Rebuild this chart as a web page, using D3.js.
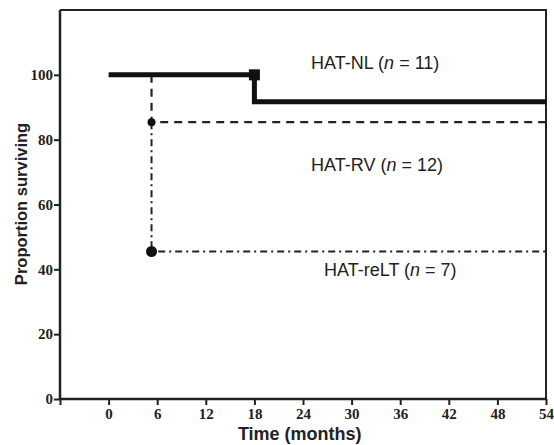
<!DOCTYPE html>
<html>
<head>
<meta charset="utf-8">
<script src="https://cdn.jsdelivr.net/npm/d3@7"></script>
<style>
  body { margin: 0; background: #fff; }
  .tick text { font-family: "Liberation Serif", "Times New Roman", serif; font-weight: bold; font-size: 15px; fill: #222; }
  .axisTitle { font-family: "Liberation Sans", Arial, sans-serif; font-weight: bold; fill: #222; }
  .groupLabel { font-family: "Liberation Sans", Arial, sans-serif; font-size: 18px; fill: #222; }
</style>
</head>
<body>
<script>
var svg_width = 554;
var svg_height = 445;

var margin = { top: 10, right: 8, bottom: 46, left: 60 };
var width = svg_width - margin.left - margin.right;
var height = svg_height - margin.top - margin.bottom;

// Data
var xTicks = [-6, 0, 6, 12, 18, 24, 30, 36, 42, 48, 54];
var yTicks = [0, 20, 40, 60, 80, 100];

var nlTime = [0, 18, 18, 54];
var nlSurv = [100, 100, 91.7, 91.7];

var rvTime = [5.3, 5.3, 54];
var rvSurv = [100, 85.4, 85.4];

var reltTime = [5.3, 5.3, 54];
var reltSurv = [85.4, 45.5, 45.5];

var labels = ["HAT-NL", "HAT-RV", "HAT-reLT"];
var labelN = [11, 12, 7];

var svg = d3.select("body")
  .append("svg")
  .attr("width", svg_width)
  .attr("height", svg_height);

var chartGroup = svg.append("g")
  .attr("transform", `translate(${margin.left}, ${margin.top})`);

var x = d3.scaleLinear().domain([-6, 54]).range([0, width]);
var y = d3.scaleLinear().domain([0, 120]).range([height, 0]);

// frame (top and right)
chartGroup.append("path")
  .attr("d", `M0,0H${width}V${height}`)
  .attr("fill", "none")
  .attr("stroke", "#222")
  .attr("stroke-width", 2);

var bottomAxis = d3.axisBottom(x).tickValues(xTicks).tickSize(6)
  .tickFormat(d => d < 0 ? "" : d);
var leftAxis = d3.axisLeft(y).tickValues(yTicks).tickSize(6);

var xg = chartGroup.append("g")
  .attr("transform", `translate(0, ${height})`)
  .call(bottomAxis);
var yg = chartGroup.append("g").call(leftAxis);

[xg, yg].forEach(function(g) {
  g.select(".domain").remove();
  g.selectAll(".tick line").attr("stroke", "#222").attr("stroke-width", 2);
});
xg.selectAll(".tick text").attr("y", 9);
yg.selectAll(".tick text").attr("x", -7);

chartGroup.append("line")
  .attr("x1", 0).attr("x2", width).attr("y1", height).attr("y2", height)
  .attr("stroke", "#222").attr("stroke-width", 2.5);
chartGroup.append("line")
  .attr("x1", 0).attr("x2", 0).attr("y1", 0).attr("y2", height)
  .attr("stroke", "#222").attr("stroke-width", 2.5);

var line = d3.line().x(d => x(d[0])).y(d => y(d[1]));

chartGroup.append("path")
  .datum(d3.zip(reltTime, reltSurv))
  .attr("d", line)
  .attr("fill", "none")
  .attr("stroke", "#222")
  .attr("stroke-width", 2)
  .attr("stroke-dasharray", "7,4,2,4");

chartGroup.append("path")
  .datum(d3.zip(rvTime, rvSurv))
  .attr("d", line)
  .attr("fill", "none")
  .attr("stroke", "#222")
  .attr("stroke-width", 2.2)
  .attr("stroke-dasharray", "8,6");

chartGroup.append("path")
  .datum(d3.zip(nlTime, nlSurv))
  .attr("d", line)
  .attr("fill", "none")
  .attr("stroke", "#111")
  .attr("stroke-width", 5);

// markers
chartGroup.append("rect")
  .attr("x", x(18) - 5.5).attr("y", y(100) - 5.5)
  .attr("width", 11).attr("height", 11)
  .attr("fill", "#111");

chartGroup.append("circle")
  .attr("cx", x(rvTime[1])).attr("cy", y(rvSurv[1]))
  .attr("r", 4).attr("fill", "#111");

chartGroup.append("circle")
  .attr("cx", x(reltTime[1])).attr("cy", y(reltSurv[1]))
  .attr("r", 5.5).attr("fill", "#111");

// group labels
var labelPos = [[25, 101.8], [25, 70.3], [26.6, 37.8]];
labels.forEach(function(name, i) {
  var t = chartGroup.append("text")
    .attr("class", "groupLabel")
    .attr("x", x(labelPos[i][0]))
    .attr("y", y(labelPos[i][1]));
  t.append("tspan").text(name + " (");
  t.append("tspan").style("font-style", "italic").text("n");
  t.append("tspan").text(" = " + labelN[i] + ")");
});

chartGroup.append("text")
  .attr("class", "axisTitle")
  .style("font-size", "16.5px")
  .attr("transform", "rotate(-90)")
  .attr("x", -(204 - margin.top))
  .attr("y", -33)
  .attr("text-anchor", "middle")
  .text("Proportion surviving");

chartGroup.append("text")
  .attr("class", "axisTitle")
  .style("font-size", "18px")
  .attr("x", x(23.6))
  .attr("y", height + 40.5)
  .attr("text-anchor", "middle")
  .text("Time (months)");
</script>
</body>
</html>
